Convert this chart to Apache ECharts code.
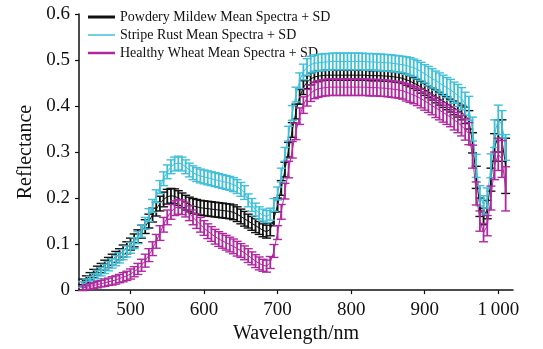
<!DOCTYPE html>
<html><head><meta charset="utf-8">
<script src="https://cdn.jsdelivr.net/npm/echarts@6/dist/echarts.min.js"></script>
<style>html,body{margin:0;padding:0;background:#fff}#c{width:543px;height:349px}</style>
</head><body><div id="c"></div>
<script>
// Wavelengths 435..1010 nm, step 5
const wavelengths = [
 435,440,445,450,455,460,465,470,475,480,
 485,490,495,500,505,510,515,520,525,530,
 535,540,545,550,555,560,565,570,575,580,
 585,590,595,600,605,610,615,620,625,630,
 635,640,645,650,655,660,665,670,675,680,
 685,690,695,700,705,710,715,720,725,730,
 735,740,745,750,755,760,765,770,775,780,
 785,790,795,800,805,810,815,820,825,830,
 835,840,845,850,855,860,865,870,875,880,
 885,890,895,900,905,910,915,920,925,930,
 935,940,945,950,955,960,965,970,975,980,
 985,990,995,1000,1005,1010];

const seriesNames = ['Powdery Mildew Mean Spectra + SD','Stripe Rust Mean Spectra + SD','Healthy Wheat Mean Spectra + SD'];

const powderyMean = [
 .018,.024,.030,.036,.042,.048,.054,.060,.066,.072,
 .078,.085,.092,.100,.108,.117,.127,.138,.150,.163,
 .176,.188,.197,.203,.205,.204,.200,.195,.190,.186,
 .183,.181,.179,.178,.177,.176,.175,.174,.173,.172,
 .171,.169,.165,.160,.155,.150,.145,.140,.135,.130,
 .127,.132,.155,.185,.222,.262,.305,.348,.388,.420,
 .440,.452,.459,.463,.465,.466,.467,.467,.467,.467,
 .467,.467,.467,.467,.467,.467,.467,.467,.466,.466,
 .466,.466,.465,.465,.464,.463,.462,.460,.457,.454,
 .450,.446,.441,.436,.431,.426,.421,.416,.411,.406,
 .401,.396,.391,.386,.380,.370,.320,.245,.180,.160,
 .175,.240,.310,.335,.325,.270];
const powderySD = [
 .006,.007,.008,.009,.010,.010,.011,.011,.012,.012,
 .012,.013,.013,.013,.014,.014,.014,.015,.015,.015,
 .015,.016,.016,.016,.016,.016,.016,.016,.016,.016,
 .016,.016,.016,.016,.016,.016,.016,.016,.016,.016,
 .016,.016,.016,.016,.016,.015,.015,.015,.014,.014,
 .014,.014,.015,.015,.016,.016,.016,.016,.016,.016,
 .015,.014,.013,.012,.012,.011,.011,.011,.011,.011,
 .011,.011,.011,.011,.011,.011,.011,.011,.011,.011,
 .011,.011,.011,.011,.011,.011,.011,.011,.012,.012,
 .012,.012,.013,.013,.013,.013,.014,.014,.014,.014,
 .014,.015,.015,.016,.018,.020,.022,.024,.020,.018,
 .020,.025,.030,.035,.045,.060];

const rustMean = [
 .012,.017,.022,.028,.034,.040,.046,.052,.058,.064,
 .070,.077,.084,.092,.102,.114,.128,.145,.163,.183,
 .204,.224,.242,.257,.268,.274,.276,.274,.268,.261,
 .255,.251,.248,.246,.244,.242,.240,.238,.236,.234,
 .232,.229,.225,.219,.212,.195,.185,.175,.168,.163,
 .160,.165,.185,.210,.250,.295,.340,.385,.425,.455,
 .474,.485,.490,.493,.494,.495,.496,.496,.497,.497,
 .497,.497,.497,.497,.497,.497,.497,.496,.496,.496,
 .495,.495,.494,.494,.493,.492,.491,.490,.488,.486,
 .483,.479,.475,.470,.465,.460,.455,.450,.445,.440,
 .435,.429,.423,.416,.405,.395,.350,.270,.205,.185,
 .200,.270,.340,.370,.360,.310];
const rustSD = [
 .006,.007,.008,.008,.009,.009,.010,.010,.010,.011,
 .011,.011,.012,.012,.012,.013,.013,.013,.014,.014,
 .014,.014,.015,.015,.015,.015,.015,.015,.015,.015,
 .015,.015,.015,.015,.015,.015,.015,.015,.015,.015,
 .015,.015,.015,.015,.015,.014,.014,.014,.013,.013,
 .013,.013,.014,.014,.015,.015,.016,.016,.016,.017,
 .017,.018,.018,.018,.018,.018,.018,.018,.018,.018,
 .018,.018,.018,.018,.018,.018,.018,.018,.018,.018,
 .018,.018,.018,.018,.018,.018,.018,.018,.019,.019,
 .019,.020,.020,.020,.021,.021,.021,.022,.022,.022,
 .023,.023,.024,.024,.025,.026,.026,.025,.022,.020,
 .022,.026,.030,.032,.030,.028];

const healthyMean = [
 .004,.006,.008,.010,.012,.014,.016,.018,.020,.022,
 .025,.028,.031,.035,.040,.046,.054,.064,.076,.090,
 .106,.124,.142,.158,.170,.178,.181,.180,.175,.167,
 .158,.150,.142,.135,.128,.122,.116,.111,.107,.103,
 .099,.095,.090,.086,.081,.075,.069,.063,.058,.054,
 .052,.060,.085,.125,.170,.215,.262,.305,.345,.378,
 .402,.418,.428,.434,.437,.439,.440,.441,.441,.441,
 .441,.441,.441,.441,.441,.441,.441,.441,.440,.440,
 .440,.439,.439,.438,.437,.436,.435,.433,.430,.427,
 .424,.420,.416,.411,.406,.401,.396,.391,.386,.381,
 .376,.370,.364,.357,.349,.340,.290,.210,.150,.125,
 .140,.200,.270,.295,.285,.220];
const healthySD = [
 .005,.005,.006,.006,.007,.007,.008,.008,.009,.009,
 .009,.010,.010,.011,.011,.012,.013,.014,.014,.015,
 .015,.016,.016,.016,.016,.016,.016,.016,.016,.016,
 .016,.016,.016,.016,.016,.016,.016,.016,.016,.016,
 .016,.016,.016,.015,.015,.015,.014,.014,.014,.013,
 .013,.013,.014,.015,.016,.017,.018,.018,.018,.018,
 .018,.018,.018,.018,.018,.018,.018,.018,.018,.018,
 .018,.018,.018,.018,.018,.018,.018,.018,.018,.018,
 .018,.018,.018,.018,.018,.018,.018,.018,.019,.019,
 .019,.019,.020,.020,.020,.020,.021,.021,.021,.021,
 .021,.022,.022,.022,.023,.024,.025,.025,.022,.020,
 .022,.026,.030,.035,.040,.048];

const xTickLabels = [500,600,700,800,900,1000];
const yTickLabels = [0,0.1,0.2,0.3,0.4,0.5,0.6];

const colors = ['#111111','#3fc0d8','#b0289f'];
const legendWidths = [3,1.5,2.5];
const FONT = '"Liberation Serif","Times New Roman",serif';

const means = [powderyMean, rustMean, healthyMean];
const sds = [powderySD, rustSD, healthySD];

function errRender(color){
  return function(params, api){
    const x = api.value(0), m = api.value(1), s = api.value(2);
    const top = api.coord([x, m + s]);
    const bot = api.coord([x, m - s]);
    const h = 4.5;
    return {type:'group', children:[
      {type:'line', shape:{x1:top[0],y1:top[1],x2:bot[0],y2:bot[1]}, style:{stroke:color,lineWidth:1.8}},
      {type:'line', shape:{x1:top[0]-h,y1:top[1],x2:top[0]+h,y2:top[1]}, style:{stroke:color,lineWidth:1.4}},
      {type:'line', shape:{x1:bot[0]-h,y1:bot[1],x2:bot[0]+h,y2:bot[1]}, style:{stroke:color,lineWidth:1.4}}
    ]};
  };
}

const series = [];
for (let k = 0; k < 3; k++) {
  const lineData = wavelengths.map((w,i)=>[w, means[k][i]]);
  const errData = wavelengths.map((w,i)=>[w, means[k][i], sds[k][i]]);
  series.push({
    name: seriesNames[k], type:'custom', renderItem: errRender(colors[k]),
    data: errData, encode:{x:0, y:1}, z: 2 + k*2, silent:true
  });
  series.push({
    name: seriesNames[k], type:'line', data: lineData, symbol:'none',
    lineStyle:{color:colors[k], width:1}, itemStyle:{color:colors[k]}, z: 3 + k*2, silent:true
  });
}

const chart = echarts.init(document.getElementById('c'), null, {renderer:'canvas'});
chart.setOption({
  animation:false,
  backgroundColor:'#ffffff',
  grid:{left:79, right:30, top:14, bottom:53, containLabel:false},
  legend:{
    orient:'vertical', left:83, top:5, itemWidth:27, itemHeight:14, itemGap:4,
    textStyle:{fontFamily:FONT, fontSize:14, color:'#111'},
    data: seriesNames.map((n,k)=>({name:n, itemStyle:{color:colors[k]},
      icon:'path://M0,0H27V'+legendWidths[k]+'H0Z'}))
  },
  xAxis:{
    type:'value', min:430, max:1020,
    name:'Wavelength/nm', nameLocation:'middle', nameGap:31,
    nameTextStyle:{fontFamily:FONT, fontSize:20, color:'#111'},
    axisLine:{show:true, lineStyle:{color:'#111', width:1.5}},
    axisTick:{show:true, length:4, inside:false, lineStyle:{color:'#111', width:1.2}, customValues: xTickLabels},
    axisLabel:{fontFamily:FONT, fontSize:19, color:'#111', margin:10, customValues: xTickLabels,
      formatter: v => v >= 1000 ? '1\u2009000' : String(v)},
    splitLine:{show:false}
  },
  yAxis:{
    type:'value', min:0, max:0.6, interval:0.1,
    name:'Reflectance', nameLocation:'middle', nameGap:42, nameRotate:90,
    nameTextStyle:{fontFamily:FONT, fontSize:20, color:'#111'},
    axisLine:{show:true, lineStyle:{color:'#111', width:1.5}},
    axisTick:{show:true, length:4, inside:false, lineStyle:{color:'#111', width:1.2}},
    axisLabel:{fontFamily:FONT, fontSize:19, color:'#111', margin:9,
      formatter: v => { const t = yTickLabels.find(u => Math.abs(u - v) < 1e-9); return t === 0 ? '0' : (t !== undefined ? t.toFixed(1) : ''); }},
    splitLine:{show:false}
  },
  series: series
});
</script></body></html>
